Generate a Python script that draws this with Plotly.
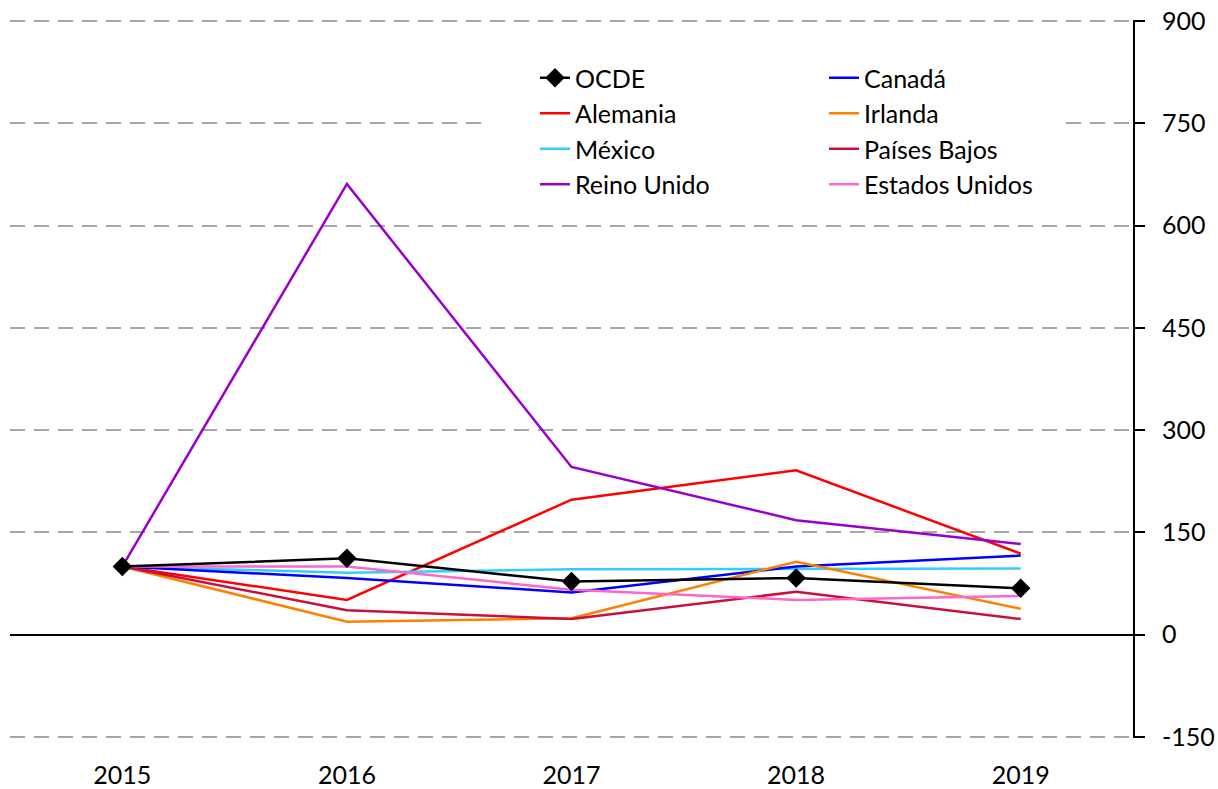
import plotly.graph_objects as go

years = ["2015", "2016", "2017", "2018", "2019"]

ocde = [100, 112, 78, 83, 68]
canada = [100, 83, 62, 100, 116]
alemania = [100, 51, 198, 241, 119]
irlanda = [100, 19, 24, 107, 38]
mexico = [100, 91, 96, 96, 97]
paises_bajos = [100, 36, 23, 63, 23]
reino_unido = [100, 661, 246, 168, 133]
estados_unidos = [100, 100, 66, 51, 57]

y_ticks = [-150, 0, 150, 300, 450, 600, 750, 900]
y_labels = ["-150", "0", "150", "300", "450", "600", "750", "900"]

# (nombre, valores, color, leyenda) -> leyenda de dos columnas
series = [
    ("OCDE", ocde, "#000000", "legend"),
    ("Alemania", alemania, "#FF0000", "legend"),
    ("México", mexico, "#33CCFF", "legend"),
    ("Reino Unido", reino_unido, "#9900CC", "legend"),
    ("Canadá", canada, "#0000FF", "legend2"),
    ("Irlanda", irlanda, "#FF8000", "legend2"),
    ("Países Bajos", paises_bajos, "#C8103C", "legend2"),
    ("Estados Unidos", estados_unidos, "#FF66CC", "legend2"),
]

FONT = "Lato, 'Open Sans', sans-serif"
W, H = 1218, 789
MARGIN = {"l": 10, "r": 85, "t": 20, "b": 51, "autoexpand": False}
PLOT_W = W - MARGIN["l"] - MARGIN["r"]
PLOT_H = H - MARGIN["t"] - MARGIN["b"]


def px_x(px):
    return (px - MARGIN["l"]) / PLOT_W


def px_y(px):
    return (H - MARGIN["b"] - px) / PLOT_H


fig = go.Figure()
# OCDE al final para que quede encima
names = [s[0] for s in series]
for name, values, color, legend in series[1:] + series[:1]:
    is_ocde = name == "OCDE"
    fig.add_trace(
        go.Scatter(
            x=years,
            y=values,
            name=name,
            legend=legend,
            legendrank=names.index(name),
            mode="lines+markers" if is_ocde else "lines",
            line={"color": color, "width": 2.5},
            marker={"symbol": "diamond", "size": 15, "color": "#000000"},
        )
    )

legend_common = {
    "orientation": "v",
    "xanchor": "left",
    "yanchor": "top",
    "y": px_y(55),
    "bgcolor": "rgba(0,0,0,0)",
    "font": {"family": FONT, "size": 25},
    "traceorder": "normal",
    "tracegroupgap": 0,
}

fig.update_layout(
    width=W,
    height=H,
    margin=MARGIN,
    plot_bgcolor="white",
    paper_bgcolor="white",
    font={"family": FONT, "size": 25, "color": "#000000"},
    showlegend=True,
    legend={**legend_common, "x": px_x(535)},
    legend2={**legend_common, "x": px_x(824)},
    shapes=[
        # fondo blanco de la leyenda, tapa las líneas de cuadrícula
        {
            "type": "rect",
            "xref": "paper",
            "yref": "paper",
            "x0": px_x(490),
            "x1": px_x(1066),
            "y0": px_y(197),
            "y1": px_y(58),
            "fillcolor": "white",
            "line": {"width": 0},
            "layer": "above",
        }
    ],
    xaxis={
        "type": "category",
        "range": [-0.5, 4.5],
        "showgrid": False,
        "showline": False,
        "ticks": "",
        "ticklabelstandoff": 20,
        "tickfont": {"size": 25},
        "zeroline": False,
    },
    yaxis={
        "side": "right",
        "range": [-151.5, 901.5],
        "tickvals": y_ticks,
        "ticktext": y_labels,
        "showgrid": True,
        "gridcolor": "#A6A6A6",
        "gridwidth": 2,
        "griddash": "15px,9px",
        "zeroline": True,
        "zerolinecolor": "#000000",
        "zerolinewidth": 1.5,
        "showline": True,
        "linecolor": "#000000",
        "linewidth": 2,
        "ticks": "outside",
        "ticklen": 10,
        "tickwidth": 2,
        "tickcolor": "#000000",
        "ticklabelstandoff": 12,
        "tickfont": {"size": 25},
    },
)

# sin margen del body, para que la figura empiece en (0, 0)
fig.write_html(
    "out.html",
    config={"displayModeBar": False},
    post_script="document.body.style.margin = '0';",
)
